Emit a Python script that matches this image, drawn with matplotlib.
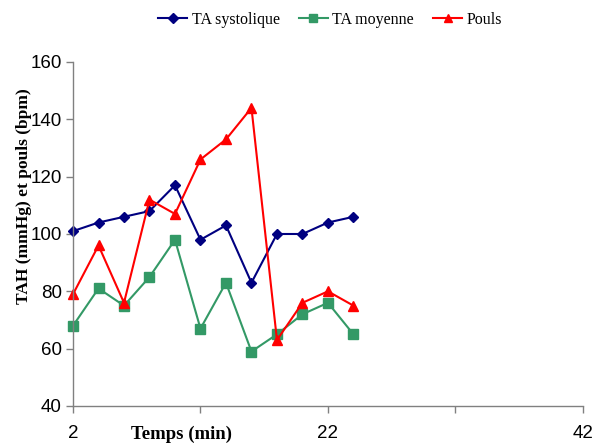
import matplotlib
matplotlib.use("Agg")
import matplotlib.pyplot as plt

temps = [2, 4, 6, 8, 10, 12, 14, 16, 18, 20, 22, 24]
ta_systolique = [101, 104, 106, 108, 117, 98, 103, 83, 100, 100, 104, 106]
ta_moyenne = [68, 81, 75, 85, 98, 67, 83, 59, 65, 72, 76, 65]
pouls = [79, 96, 76, 112, 107, 126, 133, 144, 63, 76, 80, 75]

x_ticks = [2, 12, 22, 32, 42]
x_ticklabels = ["2", "", "22", "", "42"]
y_ticks = [40, 60, 80, 100, 120, 140, 160]

fig = plt.figure(figsize=(5.96, 4.46), dpi=100)
ax = fig.add_axes([0.1225, 0.0897, 0.8555, 0.7713])

ax.plot(temps, ta_systolique, color="#000080", marker="D", markersize=5.5, lw=1.5, label="TA systolique")
ax.plot(temps, ta_moyenne, color="#339966", marker="s", markersize=7, lw=1.5, label="TA moyenne")
ax.plot(temps, pouls, color="#FF0000", marker="^", markersize=7.5, lw=1.5, label="Pouls")

ax.set_xlim(2, 42)
ax.set_ylim(40, 160)
ax.set_xticks(x_ticks)
ax.set_xticklabels(x_ticklabels)
ax.set_yticks(y_ticks)

for s in ["top", "right"]:
    ax.spines[s].set_visible(False)
for s in ["left", "bottom"]:
    ax.spines[s].set_color("#808080")
    ax.spines[s].set_linewidth(1.0)
ax.tick_params(axis="both", direction="out", length=5, color="#808080", width=1.0,
               labelsize=13.5)
ax.tick_params(axis="x", pad=9)
ax.tick_params(axis="y", pad=3)
for lab in ax.get_xticklabels() + ax.get_yticklabels():
    lab.set_fontfamily("Liberation Sans")
for line in ax.lines:
    line.set_clip_on(False)

ax.set_xlabel("Temps (min)", fontfamily="Liberation Serif", fontweight="bold", fontsize=13.5)
ax.xaxis.set_label_coords(0.212, -0.081)
ax.xaxis.label.set_va("center")
ax.set_ylabel("TAH (mmHg) et pouls (bpm)", fontfamily="Liberation Serif", fontweight="bold", fontsize=12.5)
ax.yaxis.set_label_coords(-0.097, 0.61)
ax.yaxis.label.set_va("center")

fig.legend(loc="center", bbox_to_anchor=(0.554, 0.955), ncol=3, frameon=False,
           prop={"family": "Liberation Serif", "size": 11.5}, handlelength=1.8,
           handletextpad=0.3, columnspacing=1.2, markerscale=0.85)

fig.savefig("out.png", dpi=100)
